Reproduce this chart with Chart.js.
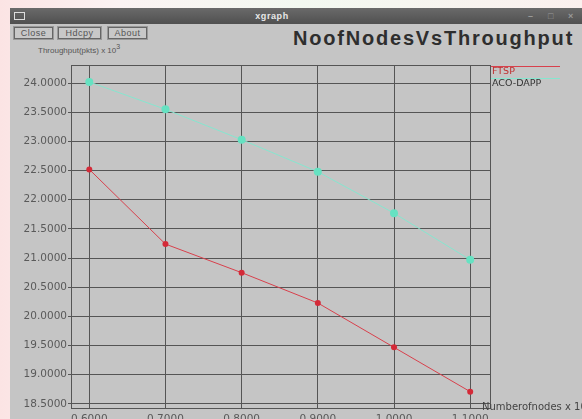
<!DOCTYPE html>
<html>
<head>
<meta charset="utf-8">
<script src="https://cdn.jsdelivr.net/npm/chart.js@4.4.1/dist/chart.umd.min.js"></script>
<style>
  html, body { margin: 0; padding: 0; }
  body { width: 582px; height: 419px; overflow: hidden; position: relative;
         background: linear-gradient(90deg, #fbe4e4 0px, #fbf3f3 120px, #f3f9f1 300px, #fbf0ee 582px);
         font-family: "Liberation Sans", Arial, sans-serif; }
  #win { position: absolute; left: 10px; top: 8px; width: 572px; height: 411px; background: #c5c5c5; }
  #titlebar { position: absolute; left: 0; top: 0; width: 524px; padding-right: 48px; height: 16px;
              background: linear-gradient(#6a6a6a, #505050); color: #e8e8e8;
              font-size: 9px; font-weight: bold; text-align: center; line-height: 16px; letter-spacing: 0.6px; }
  #titlebar .ico { position: absolute; left: 4px; top: 4px; width: 9px; height: 6px; border: 1px solid #ddd; }
  #titlebar .ctl { position: absolute; top: 3px; color: #999; font-size: 9px; line-height: 10px; }
  .btn { position: absolute; top: 19px; height: 10px; border: 1px solid #666; outline: 1px solid #999;
         font-size: 9px; line-height: 10px; color: #555; background: #c8c8c8; text-align: center; letter-spacing: 0.5px; }
  #title { position: absolute; left: 283px; top: 20px; font-size: 20px; font-weight: bold; color: #2e2e2e;
           letter-spacing: 1.8px; line-height: 20px; }
  #ylab { position: absolute; left: 28px; top: 35px; font-size: 8px; color: #555; }
  #ylab sup { font-size: 7px; }
  #chart { position: absolute; left: 0; top: 0; }
</style>
</head>
<body>
<div id="win">
  <div id="titlebar"><span class="ico"></span>xgraph
    <span class="ctl" style="left:518px">&#8211;</span>
    <span class="ctl" style="left:538px">&#9633;</span>
    <span class="ctl" style="left:558px">&#215;</span>
  </div>
  <div class="btn" style="left:4px; width:37px">Close</div>
  <div class="btn" style="left:48px; width:41px">Hdcpy</div>
  <div class="btn" style="left:98px; width:37px">About</div>
  <div id="title">NoofNodesVsThroughput</div>
  <div id="ylab">Throughput(pkts) x 10<sup>3</sup></div>
</div>
<canvas id="chart" width="582" height="419"></canvas>
<script>
const nodes = [0.6, 0.7, 0.8, 0.9, 1.0, 1.1];
const ftsp = [22.52, 21.24, 20.75, 20.23, 19.47, 18.71];
const acoDapp = [24.02, 23.55, 23.03, 22.48, 21.77, 20.97];
const xTicks = [0.6, 0.7, 0.8, 0.9, 1.0, 1.1];
const yTicks = [18.5, 19.0, 19.5, 20.0, 20.5, 21.0, 21.5, 22.0, 22.5, 23.0, 23.5, 24.0];

const gridColor = "#555555";
const tickFont = { family: "DejaVu Sans", size: 10.5 };

// frame around the plot, legend and x axis title (xgraph style)
const xgraphExtras = {
  id: "xgraphExtras",
  afterDraw(chart) {
    const { ctx, chartArea: a } = chart;
    ctx.save();
    ctx.strokeStyle = gridColor;
    ctx.lineWidth = 1;
    ctx.strokeRect(a.left + 0.5, a.top + 0.5, a.right - a.left, a.bottom - a.top);

    const ds = chart.data.datasets;
    ctx.font = "9.5px DejaVu Sans";
    ctx.textBaseline = "middle";
    ds.forEach((d, i) => {
      const y = a.top + 7 + i * 12;
      ctx.strokeStyle = d.borderColor;
      ctx.beginPath();
      ctx.moveTo(a.right + 1, y - 5.5);
      ctx.lineTo(a.right + 70, y - 5.5);
      ctx.stroke();
      ctx.fillStyle = i === 0 ? "#c03030" : "#333333";
      ctx.fillText(d.label, a.right + 2, y);
    });

    ctx.fillStyle = "#444";
    ctx.font = "10px DejaVu Sans";
    ctx.fillText("Numberofnodes x 10", a.right - 8, a.bottom - 1);
    ctx.restore();
  }
};

new Chart(document.getElementById("chart"), {
  type: "line",
  data: {
    datasets: [
      {
        label: "FTSP",
        data: nodes.map((x, i) => ({ x: x, y: ftsp[i] })),
        borderColor: "#d8404c",
        backgroundColor: "#d42a38",
        borderWidth: 1,
        pointRadius: 3,
        pointBorderWidth: 0,
      },
      {
        label: "ACO-DAPP",
        data: nodes.map((x, i) => ({ x: x, y: acoDapp[i] })),
        borderColor: "#86e6cf",
        backgroundColor: "#66e2c2",
        borderWidth: 1,
        pointRadius: 4,
        pointBorderWidth: 0,
      },
    ],
  },
  options: {
    responsive: false,
    animation: false,
    layout: { padding: { left: 0, top: 65, right: 92, bottom: 0 } },
    plugins: { legend: { display: false }, tooltip: { enabled: false } },
    scales: {
      x: {
        type: "linear",
        min: 0.576,
        max: 1.126,
        afterBuildTicks: (s) => { s.ticks = xTicks.map((v) => ({ value: v })); },
        afterFit: (s) => { s.height = 11; },
        grid: { color: gridColor, lineWidth: 1, drawTicks: false },
        border: { display: false },
        ticks: { color: "#5a5a5a", font: tickFont, padding: 5, maxRotation: 0, autoSkip: false,
                 callback: (v) => v.toFixed(4) },
      },
      y: {
        min: 18.43,
        max: 24.31,
        afterBuildTicks: (s) => { s.ticks = yTicks.map((v) => ({ value: v })); },
        afterFit: (s) => { s.width = 71; },
        grid: { color: gridColor, lineWidth: 1, tickLength: 3 },
        border: { display: false },
        ticks: { color: "#5a5a5a", font: tickFont, padding: 1,
                 callback: (v) => v.toFixed(4) },
      },
    },
  },
  plugins: [xgraphExtras],
});
</script>
</body>
</html>
